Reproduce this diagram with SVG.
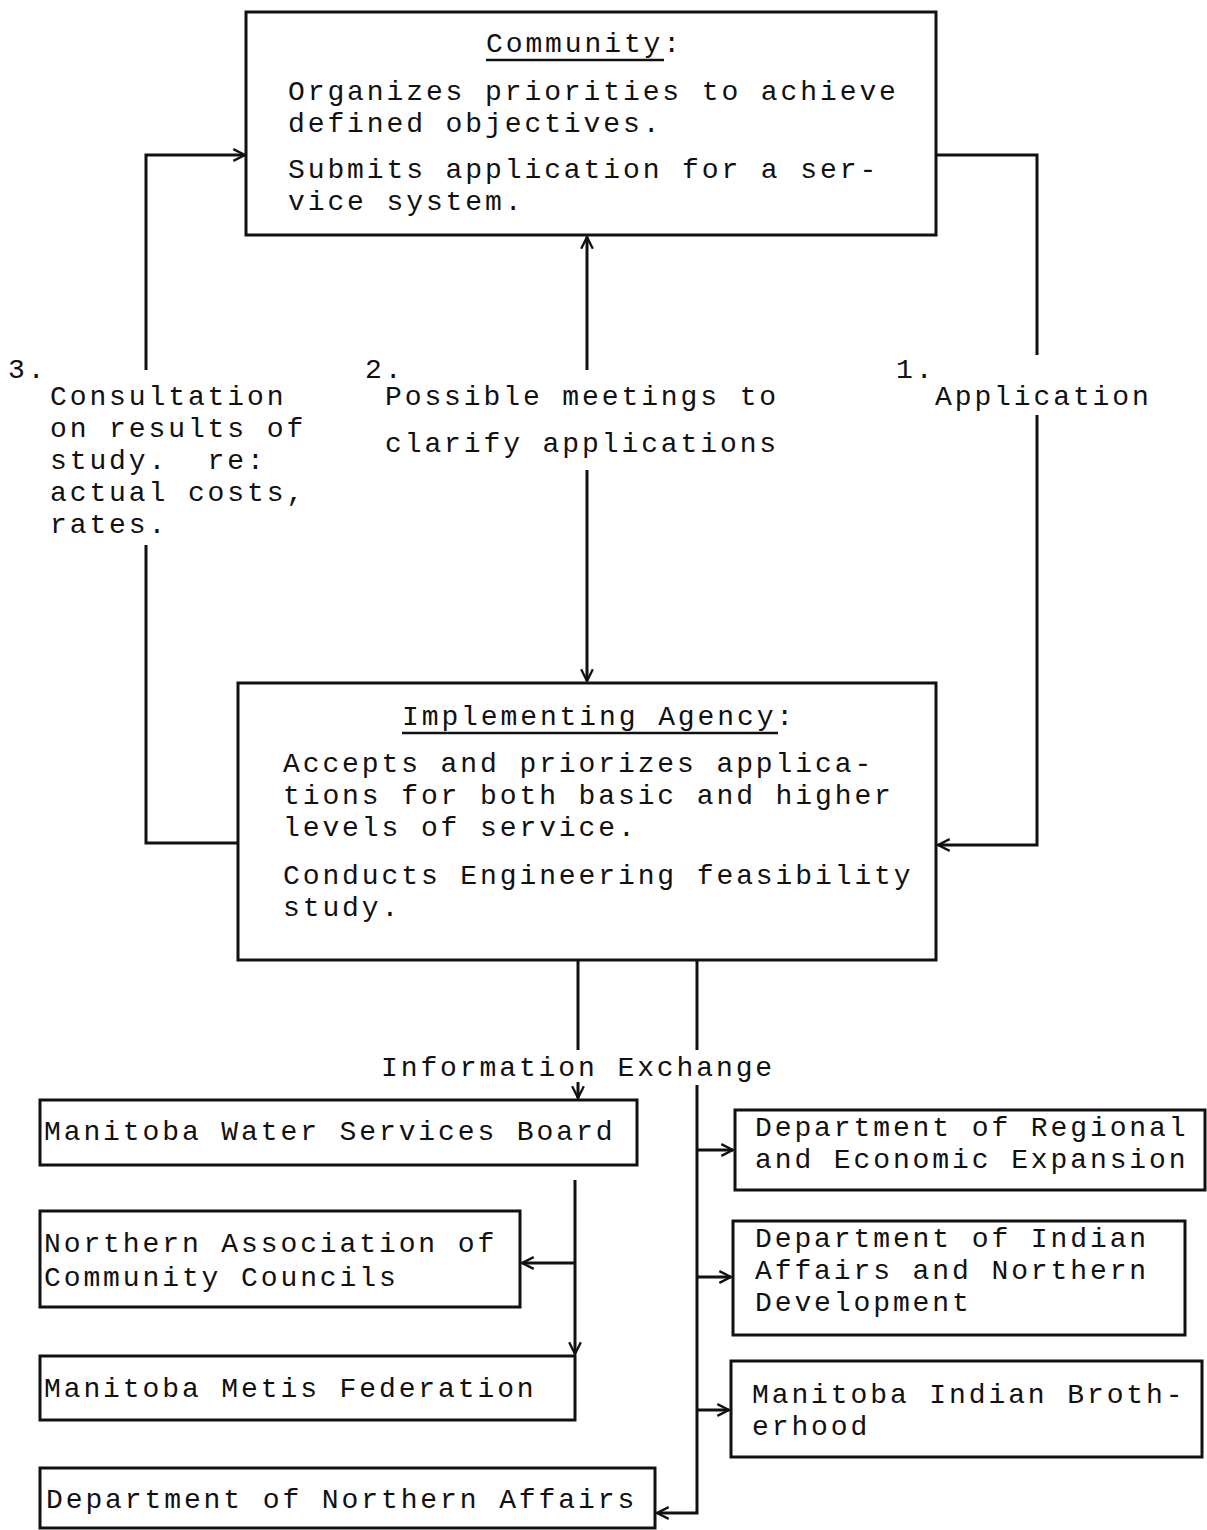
<svg xmlns="http://www.w3.org/2000/svg" width="1207" height="1530" viewBox="0 0 1207 1530">
<style>
  text { font-family: "Liberation Mono", "Courier New", monospace; font-size: 28px; letter-spacing: 2.9px; fill: #111; white-space: pre; }
  .box { fill: none; stroke: #111; stroke-width: 3; }
  .conn path { fill: none; stroke: #111; stroke-width: 3; }
  .ul { stroke: #111; stroke-width: 2.5; }
</style>
<defs>
  <marker id="arr" viewBox="0 0 12 12" refX="11" refY="6" markerWidth="14" markerHeight="14" markerUnits="userSpaceOnUse" orient="auto">
    <path d="M1,1 L11,6 L1,11" fill="none" stroke="#111" stroke-width="2"/>
  </marker>
</defs>
<rect width="1207" height="1530" fill="#fff"/>

<g id="community">
  <rect class="box" x="246" y="12" width="690" height="223"/>
  <text x="486" y="52">Community:</text>
  <line class="ul" x1="486" y1="60" x2="664" y2="60"/>
  <text x="288" y="100">Organizes priorities to achieve</text>
  <text x="288" y="132">defined objectives.</text>
  <text x="288" y="178">Submits application for a ser-</text>
  <text x="288" y="210">vice system.</text>
</g>

<g id="agency">
  <rect class="box" x="238" y="683" width="698" height="277"/>
  <text x="402" y="725">Implementing Agency:</text>
  <line class="ul" x1="402" y1="733" x2="778" y2="733"/>
  <text x="283" y="772">Accepts and priorizes applica-</text>
  <text x="283" y="804">tions for both basic and higher</text>
  <text x="283" y="836">levels of service.</text>
  <text x="283" y="884">Conducts Engineering feasibility</text>
  <text x="283" y="916">study.</text>
</g>

<g id="label3">
  <text x="8" y="378">3.</text>
  <text x="50" y="405">Consultation</text>
  <text x="50" y="437">on results of</text>
  <text x="50" y="469">study.  re:</text>
  <text x="50" y="501">actual costs,</text>
  <text x="50" y="533">rates.</text>
</g>
<g id="label2">
  <text x="365" y="378">2.</text>
  <text x="385" y="405">Possible meetings to</text>
  <text x="385" y="452">clarify applications</text>
</g>
<g id="label1">
  <text x="896" y="378">1.</text>
  <text x="935" y="405">Application</text>
</g>
<g id="infoexchange">
  <text x="381" y="1076">Information Exchange</text>
</g>

<g id="mwsb">
  <rect class="box" x="40" y="1100" width="597" height="65"/>
  <text x="44" y="1140">Manitoba Water Services Board</text>
</g>
<g id="naacc">
  <rect class="box" x="40" y="1211" width="480" height="96"/>
  <text x="44" y="1252">Northern Association of</text>
  <text x="44" y="1286">Community Councils</text>
</g>
<g id="mmf">
  <rect class="box" x="40" y="1356" width="535" height="64"/>
  <text x="44" y="1397">Manitoba Metis Federation</text>
</g>
<g id="dna">
  <rect class="box" x="40" y="1468" width="615" height="60"/>
  <text x="46" y="1508">Department of Northern Affairs</text>
</g>
<g id="dree">
  <rect class="box" x="735" y="1110" width="470" height="80"/>
  <text x="755" y="1136">Department of Regional</text>
  <text x="755" y="1168">and Economic Expansion</text>
</g>
<g id="diand">
  <rect class="box" x="733" y="1221" width="452" height="114"/>
  <text x="755" y="1247">Department of Indian</text>
  <text x="755" y="1279">Affairs and Northern</text>
  <text x="755" y="1311">Development</text>
</g>
<g id="mib">
  <rect class="box" x="731" y="1361" width="471" height="96"/>
  <text x="752" y="1403">Manitoba Indian Broth-</text>
  <text x="752" y="1435">erhood</text>
</g>

<g class="conn" id="connectors">
  <path d="M146,370 V155 H245" marker-end="url(#arr)"/>
  <path d="M146,545 V843 H238"/>
  <path d="M587,370 V237" marker-end="url(#arr)"/>
  <path d="M587,470 V681" marker-end="url(#arr)"/>
  <path d="M936,155 H1037 V355"/>
  <path d="M1037,415 V845 H938" marker-end="url(#arr)"/>
  <path d="M578,960 V1050"/>
  <path d="M697,960 V1050"/>
  <path d="M578,1082 V1098" marker-end="url(#arr)"/>
  <path d="M697,1085 V1513 H657" marker-end="url(#arr)"/>
  <path d="M697,1150 H733" marker-end="url(#arr)"/>
  <path d="M697,1277 H731" marker-end="url(#arr)"/>
  <path d="M697,1410 H729" marker-end="url(#arr)"/>
  <path d="M575,1180 V1354" marker-end="url(#arr)"/>
  <path d="M575,1263 H522" marker-end="url(#arr)"/>
</g>
</svg>
